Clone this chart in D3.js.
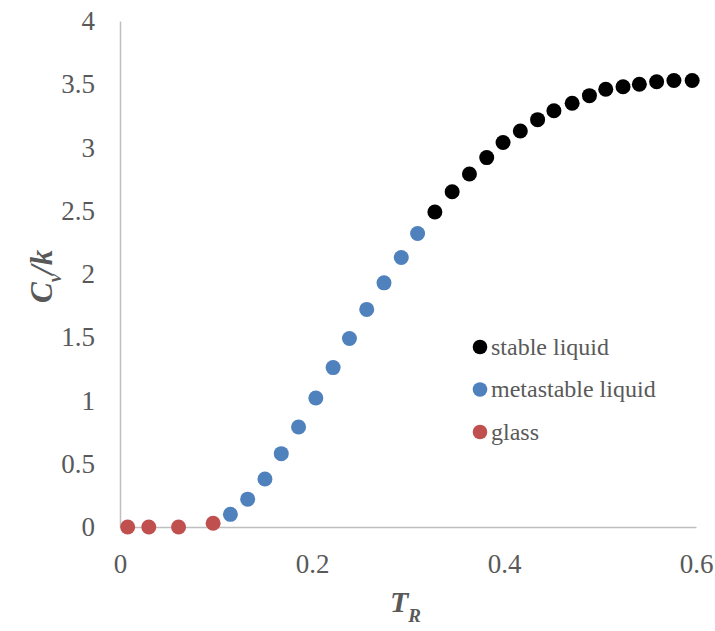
<!DOCTYPE html>
<html>
<head>
<meta charset="utf-8">
<script src="https://cdn.jsdelivr.net/npm/d3@7"></script>
<style>
  html, body { margin: 0; padding: 0; background: #ffffff; }
  svg { display: block; }
  svg text { font-family: "Liberation Serif", "Times New Roman", Times, serif; }
</style>
</head>
<body>
<svg id="chart" width="715" height="631"></svg>
<script>
// Reduced temperature T_R and heat capacity Cv/k for each phase
const glassT  = [0.008, 0.030, 0.061, 0.097];
const glassCv = [0.00, 0.00, 0.00, 0.03];

const metaT  = [0.115, 0.133, 0.151, 0.168, 0.186, 0.204, 0.222, 0.239, 0.257, 0.275, 0.293, 0.310];
const metaCv = [0.10, 0.22, 0.38, 0.58, 0.79, 1.02, 1.26, 1.49, 1.72, 1.93, 2.13, 2.32];

const stableT  = [0.328, 0.346, 0.364, 0.382, 0.399, 0.417, 0.435, 0.452, 0.471, 0.489, 0.506, 0.524, 0.541, 0.559, 0.577, 0.596];
const stableCv = [2.49, 2.65, 2.79, 2.92, 3.04, 3.13, 3.22, 3.29, 3.35, 3.41, 3.46, 3.48, 3.50, 3.52, 3.53, 3.53];

const xTicks = [0, 0.2, 0.4, 0.6];
const yTicks = [0, 0.5, 1, 1.5, 2, 2.5, 3, 3.5, 4];

const seriesNames  = ["stable liquid", "metastable liquid", "glass"];
const seriesColors = ["#000000", "#4f81bd", "#c0504d"];

const svg = d3.select("#chart");
const serif = "\"Liberation Serif\", \"Times New Roman\", Times, serif";
const textColor = "#595959";
const axisColor = "#bfbfbf";

const x = d3.scaleLinear().domain([0, 0.6]).range([120, 696]);
const y = d3.scaleLinear().domain([0, 4]).range([527, 21]);

// Axes: plain light grey lines, no tick marks
const xAxis = svg.append("g")
  .attr("transform", `translate(0,${y(0)})`)
  .call(d3.axisBottom(x).tickValues(xTicks).tickSize(0).tickSizeOuter(0).tickPadding(27)
        .tickFormat(d3.format("")));
const yAxis = svg.append("g")
  .attr("transform", `translate(${x(0)},0)`)
  .call(d3.axisLeft(y).tickValues(yTicks).tickSize(0).tickSizeOuter(0).tickPadding(25)
        .tickFormat(d3.format("")));

[xAxis, yAxis].forEach(g => {
  g.attr("font-family", null).attr("font-size", null);
  g.select(".domain").attr("stroke", axisColor).attr("stroke-width", 1.5);
  g.selectAll("text")
    .style("font-family", serif)
    .style("font-size", "27px")
    .attr("fill", textColor);
});

// Scatter points, one group per phase
const groups = [
  { t: glassT,  cv: glassCv,  color: seriesColors[2] },
  { t: metaT,   cv: metaCv,   color: seriesColors[1] },
  { t: stableT, cv: stableCv, color: seriesColors[0] }
];
groups.forEach(s => {
  svg.append("g")
    .selectAll("circle")
    .data(s.t.map((t, i) => [t, s.cv[i]]))
    .join("circle")
    .attr("cx", d => x(d[0]))
    .attr("cy", d => y(d[1]))
    .attr("r", 7.5)
    .attr("fill", s.color);
});

// Legend
const legend = svg.append("g").attr("transform", "translate(480,347)");
seriesNames.forEach((name, i) => {
  const row = legend.append("g").attr("transform", `translate(0,${i * 42.5})`);
  row.append("circle").attr("r", 7.3).attr("fill", seriesColors[i]);
  row.append("text")
    .attr("x", 11)
    .attr("dy", "0.32em")
    .style("font-family", serif)
    .style("font-size", "24px")
    .attr("fill", textColor)
    .text(name);
});

// Axis titles
const xTitle = svg.append("text")
  .attr("x", 390)
  .attr("y", 612)
  .style("font-family", serif)
  .style("font-weight", "bold")
  .style("font-style", "italic")
  .style("font-size", "30px")
  .attr("fill", textColor);
xTitle.append("tspan").text("T");
xTitle.append("tspan").style("font-size", "19px").attr("dy", 10).text("R");

const yTitle = svg.append("text")
  .attr("transform", "translate(52,303) rotate(-90)")
  .style("font-family", serif)
  .style("font-weight", "bold")
  .style("font-style", "italic")
  .style("font-size", "31px")
  .attr("fill", textColor);
yTitle.append("tspan").text("C");
yTitle.append("tspan").style("font-size", "19px").attr("dy", 9).text("v");
yTitle.append("tspan").attr("dy", -9).text("/k");
</script>
</body>
</html>
